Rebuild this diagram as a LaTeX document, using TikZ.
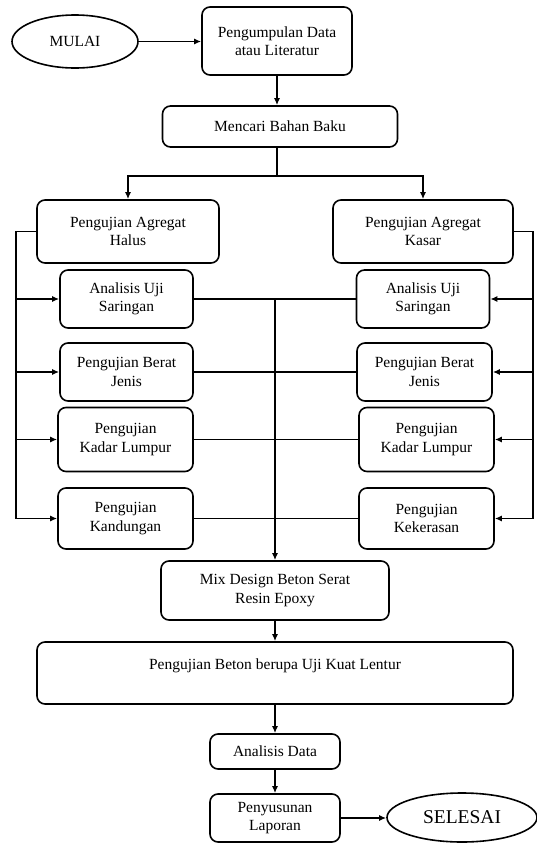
\documentclass[tikz,border=0pt]{standalone}
\usepackage{fontspec}
\setmainfont{Liberation Serif}
\usetikzlibrary{shapes.geometric,arrows.meta}

\tikzset{
  stepbox/.style={shape=rectangle, draw=black, line width=1.6pt, rounded corners=8pt,
    align=center, inner sep=0pt, font=\fontsize{15.5}{18.5}\selectfont},
  terminal/.style={shape=ellipse, draw=black, line width=1.6pt, inner sep=0pt},
  line/.style={draw=black, line width=1.8pt},
  flow/.style={line, -{Latex[length=7pt,width=6pt]}}
}

\begin{document}
\begin{tikzpicture}[x=1pt, y=1pt]
    \useasboundingbox (0,0) rectangle (536,-844);

    \node[terminal, minimum width=126, minimum height=53, font=\fontsize{15.5}{18}\selectfont] (mulai) at (75,-41.5) {MULAI};
    \node[stepbox, minimum width=150, minimum height=68] (kumpul) at (277,-41) {Pengumpulan Data\\atau Literatur};
    \node[stepbox, minimum width=235, minimum height=41] (bahan) at (280,-126.5) {Mencari Bahan Baku};

    \node[stepbox, minimum width=182, minimum height=63] (halus) at (128,-231.5) {Pengujian Agregat\\Halus};
    \node[stepbox, minimum width=180, minimum height=63] (kasar) at (423,-231.5) {Pengujian Agregat\\Kasar};

    \node[stepbox, minimum width=133, minimum height=58] (ujiL) at (126.5,-299) {Analisis Uji\\Saringan};
    \node[stepbox, minimum width=133, minimum height=58] (ujiR) at (423,-299) {Analisis Uji\\Saringan};
    \node[stepbox, minimum width=133, minimum height=58] (beratL) at (126.5,-372) {Pengujian Berat\\Jenis};
    \node[stepbox, minimum width=135, minimum height=58] (beratR) at (424.5,-372) {Pengujian Berat\\Jenis};
    \node[stepbox, minimum width=135, minimum height=64] (lumpurL) at (125.5,-439.5) {Pengujian\\Kadar Lumpur};
    \node[stepbox, minimum width=135, minimum height=64] (lumpurR) at (426.5,-439.5) {Pengujian\\Kadar Lumpur};
    \node[stepbox, minimum width=135, minimum height=61] (kandungan) at (125.5,-518.5) {Pengujian\\Kandungan};
    \node[stepbox, minimum width=135, minimum height=61] (kekerasan) at (426.5,-518.5) {Pengujian\\Kekerasan};

    \node[stepbox, minimum width=228, minimum height=59] (mix) at (275,-590.5) {Mix Design Beton Serat\\Resin Epoxy};
    \node[stepbox, minimum width=476, minimum height=62] (beton) at (275,-673) {Pengujian Beton berupa Uji Kuat Lentur\\\mbox{}};
    \node[stepbox, minimum width=130, minimum height=35] (data) at (275,-751.5) {Analisis Data};
    \node[stepbox, minimum width=130, minimum height=48] (laporan) at (275,-818) {Penyusunan\\Laporan};
    \node[terminal, minimum width=150, minimum height=49, font=\fontsize{19.5}{22}\selectfont] (selesai) at (462,-817.5) {SELESAI};

    \coordinate (split) at (277,-176);
    \coordinate (busL) at (16,0);
    \coordinate (busR) at (533,0);
    \coordinate (mid) at (275,-299);

    % top part
    \draw[flow] (mulai.east) -- (mulai.east -| kumpul.west);
    \draw[flow] (kumpul.south) -- (kumpul.south |- bahan.north);
    \draw[line] (bahan.south -| split) -- (split);
    \draw[flow] (split) -| (halus.north);
    \draw[flow] (split) -| (kasar.north);

    % left bus
    \draw[line] (halus.west) -- (halus.west -| busL) -- (kandungan.west -| busL);
    \draw[flow] (ujiL.west -| busL) -- (ujiL.west);
    \draw[flow] (beratL.west -| busL) -- (beratL.west);
    \draw[flow] (lumpurL.west -| busL) -- (lumpurL.west);
    \draw[flow] (kandungan.west -| busL) -- (kandungan.west);

    % right bus
    \draw[line] (kasar.east) -- (kasar.east -| busR) -- (kekerasan.east -| busR);
    \draw[flow] (ujiR.east -| busR) -- (ujiR.east);
    \draw[flow] (beratR.east -| busR) -- (beratR.east);
    \draw[flow] (lumpurR.east -| busR) -- (lumpurR.east);
    \draw[flow] (kekerasan.east -| busR) -- (kekerasan.east);

    % rows to the middle
    \draw[line] (ujiL.east) -- (ujiR.west);
    \draw[line] (beratL.east) -- (beratR.west);
    \draw[line] (lumpurL.east) -- (lumpurR.west);
    \draw[line] (kandungan.east) -- (kekerasan.west);
    \draw[flow] (mid) -- (mix.north);

    % bottom part
    \draw[flow] (mix) -- (beton);
    \draw[flow] (beton) -- (data);
    \draw[flow] (data) -- (laporan);
    \draw[flow] (laporan.east) -- (laporan.east -| selesai.west);
\end{tikzpicture}
\end{document}
